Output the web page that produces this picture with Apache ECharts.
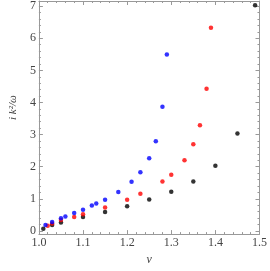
<!DOCTYPE html>
<html><head><meta charset="utf-8">
<script src="https://cdn.jsdelivr.net/npm/echarts@6/dist/echarts.min.js"></script>
<style>html,body{margin:0;padding:0;background:#fff}#c{width:270px;height:271px}</style>
</head><body><div id="c"></div>
<script>
var blue = [[1.015,0.18],[1.03,0.28],[1.05,0.39],[1.06,0.45],[1.08,0.56],[1.10,0.66],[1.12,0.79],[1.13,0.85],[1.15,0.97],[1.18,1.21],[1.21,1.53],[1.23,1.83],[1.25,2.26],[1.265,2.79],[1.28,3.87],[1.29,5.49]];
var red = [[1.02,0.16],[1.03,0.23],[1.05,0.34],[1.08,0.43],[1.10,0.52],[1.15,0.73],[1.20,0.97],[1.23,1.16],[1.28,1.54],[1.30,1.75],[1.33,2.20],[1.35,2.70],[1.365,3.29],[1.38,4.43],[1.39,6.33]];
var black = [[1.01,0.07],[1.03,0.18],[1.05,0.26],[1.10,0.43],[1.15,0.59],[1.20,0.77],[1.25,0.98],[1.30,1.22],[1.35,1.54],[1.40,2.03],[1.45,3.03],[1.49,7.03]];
var xMin = 1.0, xMax = 1.5, xStep = 0.1;
var yMin = -0.1, yMax = 7.16;
var yMajor = [0, 1, 2, 3, 4, 5, 6, 7];
var yMinor = [0.2,0.4,0.6,0.8,1.2,1.4,1.6,1.8,2.2,2.4,2.6,2.8,3.2,3.4,3.6,3.8,4.2,4.4,4.6,4.8,5.2,5.4,5.6,5.8,6.2,6.4,6.6,6.8,7.2];

var font = '"Liberation Serif", "DejaVu Serif", serif';
var axisCol = '#999999';
function xAx(pos, show) {
  return {
    type: 'value', position: pos, min: xMin, max: xMax, interval: xStep,
    axisLine: {show: true, onZero: false, lineStyle: {color: axisCol, width: 1}},
    axisTick: {show: true, inside: true, length: 4, lineStyle: {color: axisCol}},
    minorTick: {show: true, splitNumber: 5, length: 2, lineStyle: {color: axisCol}},
    splitLine: {show: false},
    axisLabel: {show: show, margin: 3, fontFamily: font, fontSize: 12, color: '#444',
      formatter: function(v){ return v.toFixed(1); }},
    name: show ? 'ν' : '', nameLocation: 'middle', nameGap: 18,
    nameTextStyle: {fontFamily: font, fontSize: 12, fontStyle: 'italic', color: '#444'}
  };
}
function yAx(pos, show) {
  return {
    type: 'value', position: pos, min: yMin, max: yMax,
    axisLine: {show: true, onZero: false, lineStyle: {color: axisCol, width: 1}},
    axisTick: {show: true, inside: true, length: 4, customValues: yMajor, lineStyle: {color: axisCol}},
    splitLine: {show: false},
    axisLabel: {show: show, margin: 3, customValues: yMajor, fontFamily: font, fontSize: 12, color: '#444',
      formatter: function(v){ return String(Math.round(v)); }},
    name: show ? 'i k²/ω' : '', nameLocation: 'middle', nameGap: 16, nameRotate: 90,
    nameTextStyle: {fontFamily: font, fontSize: 11, fontStyle: 'italic', color: '#444', padding: [0, 0, 0, 20]}
  };
}
function yMinorAx(pos) {
  return {
    type: 'value', position: pos, min: yMin, max: yMax,
    axisLine: {show: false},
    axisTick: {show: true, inside: true, length: 2, customValues: yMinor, lineStyle: {color: axisCol}},
    splitLine: {show: false},
    axisLabel: {show: false}
  };
}
var chart = echarts.init(document.getElementById('c'), null, {renderer: 'canvas'});
chart.setOption({
  animation: false,
  grid: {left: 26.6, right: 7.4, top: 1, bottom: 36},
  xAxis: [xAx('bottom', true), xAx('top', false)],
  yAxis: [yAx('left', true), yAx('right', false), yMinorAx('left'), yMinorAx('right')],
  series: [
    {type: 'scatter', data: black, symbolSize: 4.5, itemStyle: {color: '#000000'}},
    {type: 'scatter', data: red, symbolSize: 4.5, itemStyle: {color: '#ff0000'}},
    {type: 'scatter', data: blue, symbolSize: 4.5, itemStyle: {color: '#0000ff'}}
  ]
});
</script></body></html>
